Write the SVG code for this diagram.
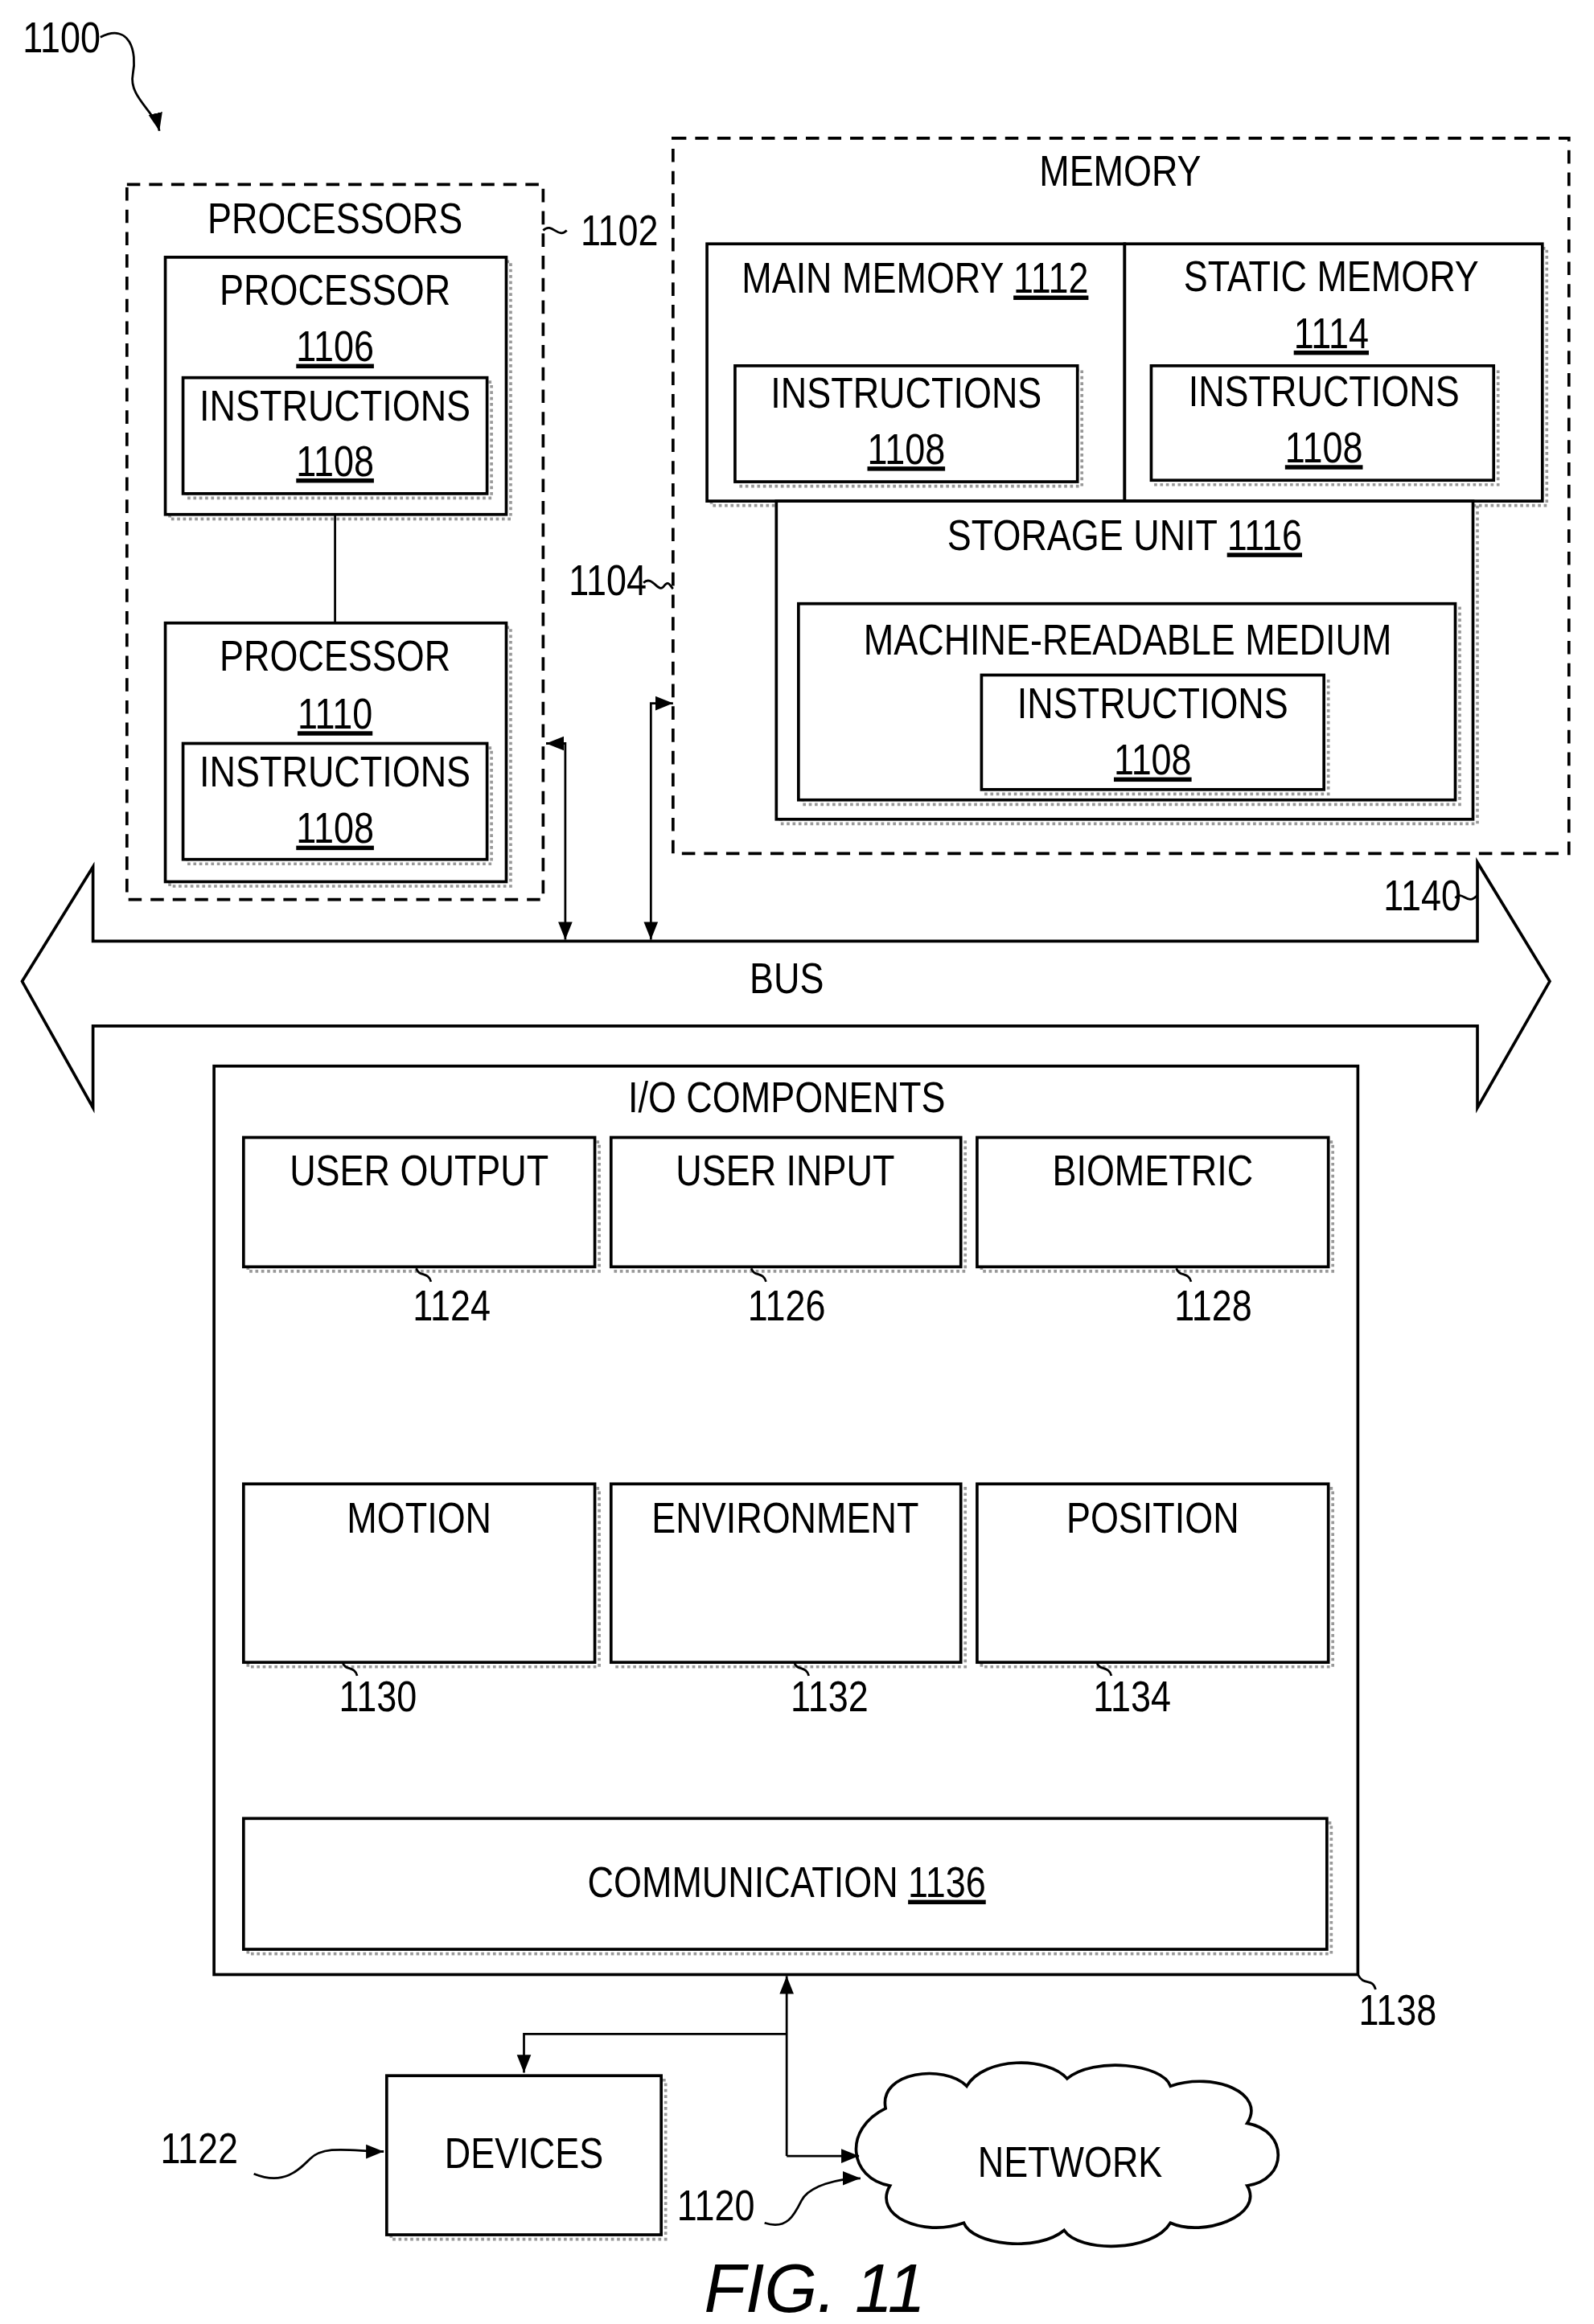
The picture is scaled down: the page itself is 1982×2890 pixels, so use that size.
<svg xmlns="http://www.w3.org/2000/svg" width="1982" height="2890" viewBox="0 0 1982 2890">
<defs>
<style>
text{font-family:"Liberation Sans",Arial,sans-serif;font-size:29.5px;fill:#000;text-anchor:middle;transform-box:fill-box;transform-origin:center;transform:scaleX(0.83)}
.l{text-anchor:start}
.b{fill:#fff;stroke:#000;stroke-width:2}
.sh{fill:none;stroke:#999;stroke-width:2;stroke-dasharray:2 2}
.d{fill:none;stroke:#000;stroke-width:2;stroke-dasharray:9 6}
.c{fill:none;stroke:#000;stroke-width:1.5}
</style>
<marker id="a" viewBox="0 0 10 10" refX="10" refY="5" markerWidth="8" markerHeight="8" orient="auto-start-reverse"><path d="M0,1L10,5L0,9z"/></marker>
</defs>
<rect width="1982" height="2890" fill="#fff"/>
<g transform="scale(1.8352,1.849)">
<g id="n1100"><text class="l" x="10" y="35">1100</text><path class="c" d="M68,25c20,-10 25,10 22,25c-3,15 15,25 18,38" marker-end="url(#a)"/></g>
<g id="processors">
<rect class="d" x="86" y="124" width="282" height="481"/>
<text x="227" y="157">PROCESSORS</text>
<path class="c" d="M368,155c6,-6 10,6 16,0"/><text class="l" x="388" y="165">1102</text>
</g>
<g id="p1106">
<rect class="sh" x="115" y="176" width="231" height="173"/><rect class="b" x="112" y="173" width="231" height="173"/>
<text x="227" y="205">PROCESSOR</text><text x="227" y="243" text-decoration="underline">1106</text>
<rect class="sh" x="127" y="257" width="206" height="78"/><rect class="b" x="124" y="254" width="206" height="78"/>
<text x="227" y="283">INSTRUCTIONS</text><text x="227" y="320" text-decoration="underline">1108</text>
</g>
<g id="p1110">
<rect class="sh" x="115" y="422" width="231" height="174"/><rect class="b" x="112" y="419" width="231" height="174"/>
<text x="227" y="451">PROCESSOR</text><text x="227" y="490" text-decoration="underline">1110</text>
<rect class="sh" x="127" y="503" width="206" height="78"/><rect class="b" x="124" y="500" width="206" height="78"/>
<text x="227" y="529">INSTRUCTIONS</text><text x="227" y="567" text-decoration="underline">1108</text>
</g>
<g id="memory">
<rect class="d" x="456" y="93" width="607" height="481"/>
<text x="759" y="125">MEMORY</text>
<text class="l" x="380" y="400">1104</text><path class="c" d="M436,392c6,-6 10,8 14,2c3,-4 4,0 6,2"/>
</g>
<g id="mm1112">
<rect class="sh" x="482" y="167" width="283" height="173"/><rect class="b" x="479" y="164" width="283" height="173"/>
<text x="620" y="197">MAIN MEMORY <tspan text-decoration="underline">1112</tspan></text>
<rect class="sh" x="501" y="249" width="232" height="78"/><rect class="b" x="498" y="246" width="232" height="78"/>
<text x="614" y="274">INSTRUCTIONS</text><text x="614" y="312" text-decoration="underline">1108</text>
</g>
<g id="sm1114">
<rect class="sh" x="765" y="167" width="283" height="173"/><rect class="b" x="762" y="164" width="283" height="173"/>
<text x="902" y="196">STATIC MEMORY</text><text x="902" y="234" text-decoration="underline">1114</text>
<rect class="sh" x="783" y="249" width="232" height="77"/><rect class="b" x="780" y="246" width="232" height="77"/>
<text x="897" y="273">INSTRUCTIONS</text><text x="897" y="311" text-decoration="underline">1108</text>
</g>
<g id="su1116">
<rect class="sh" x="529" y="340" width="472" height="214"/><rect class="b" x="526" y="337" width="472" height="214"/>
<text x="762" y="370">STORAGE UNIT <tspan text-decoration="underline">1116</tspan></text>
<rect class="sh" x="544" y="409" width="445" height="132"/><rect class="b" x="541" y="406" width="445" height="132"/>
<text x="764" y="440">MACHINE-READABLE MEDIUM</text>
<rect class="sh" x="668" y="457" width="232" height="77"/><rect class="b" x="665" y="454" width="232" height="77"/>
<text x="781" y="483">INSTRUCTIONS</text><text x="781" y="521" text-decoration="underline">1108</text>
</g>
<g id="bus">
<path class="b" d="M15,660L63,583L63,633L1001,633L1001,580L1050,660L1001,745L1001,690L63,690L63,745Z"/>
<text x="533" y="668">BUS</text>
<text class="l" x="932" y="612">1140</text><path class="c" d="M986,604c5,-6 8,6 15,-2"/>
</g>
<g id="io">
<rect class="b" x="145" y="717" width="775" height="611"/>
<text x="533" y="748">I/O COMPONENTS</text>
<rect class="sh" x="168" y="768" width="238" height="87"/><rect class="b" x="165" y="765" width="238" height="87"/><text x="284" y="797">USER OUTPUT</text>
<rect class="sh" x="417" y="768" width="237" height="87"/><rect class="b" x="414" y="765" width="237" height="87"/><text x="532" y="797">USER INPUT</text>
<rect class="sh" x="665" y="768" width="238" height="87"/><rect class="b" x="662" y="765" width="238" height="87"/><text x="781" y="797">BIOMETRIC</text>
<rect class="sh" x="168" y="1001" width="238" height="120"/><rect class="b" x="165" y="998" width="238" height="120"/><text x="284" y="1031">MOTION</text>
<rect class="sh" x="417" y="1001" width="237" height="120"/><rect class="b" x="414" y="998" width="237" height="120"/><text x="532" y="1031">ENVIRONMENT</text>
<rect class="sh" x="665" y="1001" width="238" height="120"/><rect class="b" x="662" y="998" width="238" height="120"/><text x="781" y="1031">POSITION</text>
<rect class="sh" x="168" y="1226" width="734" height="88"/><rect class="b" x="165" y="1223" width="734" height="88"/>
<text x="533" y="1276">COMMUNICATION <tspan text-decoration="underline">1136</tspan></text>
<text x="306" y="888">1124</text><path class="c" d="M282,853c2,6 8,2 10,9"/>
<text x="533" y="888">1126</text><path class="c" d="M509,853c2,6 8,2 10,9"/>
<text x="822" y="888">1128</text><path class="c" d="M797,853c2,6 8,2 10,9"/>
<text x="256" y="1151">1130</text><path class="c" d="M232,1118c2,6 8,2 10,9"/>
<text x="562" y="1151">1132</text><path class="c" d="M538,1118c2,6 8,2 10,9"/>
<text x="767" y="1151">1134</text><path class="c" d="M743,1118c2,6 8,2 10,9"/>
<text x="947" y="1362">1138</text><path class="c" d="M920,1328c4,8 10,2 12,10"/>
</g>
<g id="devices">
<rect class="sh" x="265" y="1399" width="186" height="107"/><rect class="b" x="262" y="1396" width="186" height="107"/>
<text x="355" y="1458">DEVICES</text>
<text x="135" y="1455">1122</text><path class="c" d="M172,1462c20,8 30,-2 38,-10c10,-10 30,-5 50,-5" marker-end="url(#a)"/>
</g>
<g id="network">
<path class="b" d="M600,1418c-5,-25 40,-30 55,-15c12,-20 55,-20 68,-5c18,-15 65,-10 70,5c30,-10 65,5 52,25c28,5 28,38 0,42c12,20 -30,35 -52,25c-12,20 -62,20 -72,5c-18,15 -62,10 -68,-5c-28,10 -62,-5 -50,-25c-28,-5 -32,-38 -3,-52z"/>
<text x="725" y="1464">NETWORK</text>
<text x="485" y="1493">1120</text><path class="c" d="M518,1495c15,5 20,-5 25,-15c5,-10 25,-15 40,-15" marker-end="url(#a)"/>
</g>
<g id="connectors" fill="none" stroke="#000" stroke-width="1.5">
<line x1="227" y1="346" x2="227" y2="419"/>
<polyline points="370,500 383,500 383,632" marker-start="url(#a)" marker-end="url(#a)"/>
<polyline points="456,473 441,473 441,632" marker-start="url(#a)" marker-end="url(#a)"/>
<line x1="533" y1="1450" x2="533" y2="1329" marker-end="url(#a)"/>
<polyline points="533,1368 355,1368 355,1394" marker-end="url(#a)"/>
<line x1="533" y1="1450" x2="582" y2="1450" marker-end="url(#a)"/>
</g>
<text x="552" y="1555" style="font-size:46px;font-style:italic;transform:none">FIG. 11</text>
</g>
</svg>
